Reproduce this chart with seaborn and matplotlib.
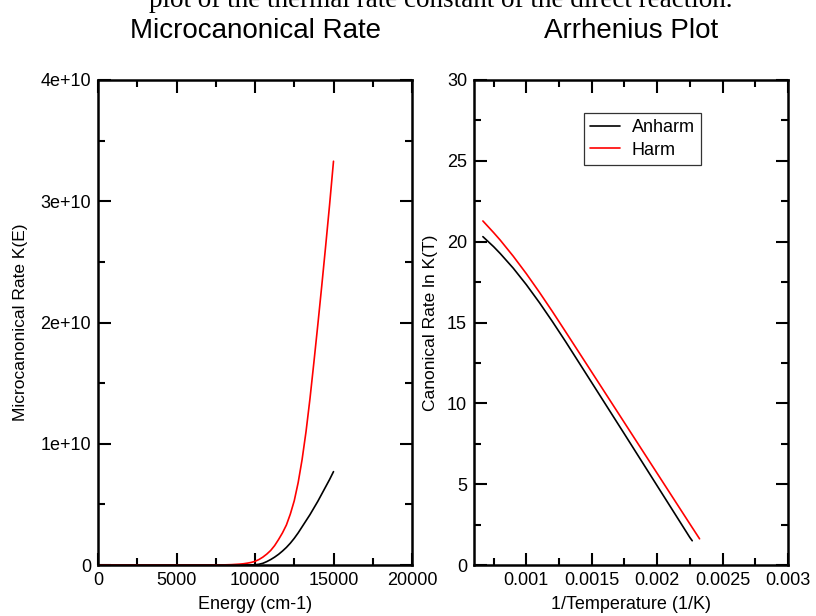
import numpy as np
import pandas as pd
import matplotlib
matplotlib.use("Agg")
import matplotlib.pyplot as plt
from matplotlib.ticker import MultipleLocator, FuncFormatter
import seaborn as sns

# Microcanonical rate K(E), in units of 1e10
energy = [0, 1000, 2000, 3000, 4000, 5000, 6000, 7000, 8000, 8500,
          9000, 9250, 9500, 9750, 10000, 10250, 10500, 10750, 11000, 11250,
          11500, 11750, 12000, 12250, 12500, 12750, 13000, 13250, 13500, 13750,
          14000, 14250, 14500, 14750, 15000]
k_e_anharm = [0, 0, 0, 0, 0, 0, 0, 0, 0, 0,
              0, 0, 0, 0.0005, 0.002, 0.006, 0.014, 0.028, 0.045, 0.065,
              0.088, 0.115, 0.145, 0.18, 0.22, 0.265, 0.315, 0.365, 0.415, 0.47,
              0.525, 0.585, 0.645, 0.705, 0.77]
k_e_harm = [0, 0, 0, 0, 0, 0, 0, 0, 0.001, 0.003,
            0.007, 0.010, 0.015, 0.021, 0.03, 0.045, 0.065, 0.09, 0.12, 0.16,
            0.21, 0.265, 0.33, 0.42, 0.53, 0.68, 0.87, 1.10, 1.37, 1.67,
            1.98, 2.30, 2.63, 2.97, 3.33]

# Arrhenius plot: ln K(T) against 1/T
inv_t_anharm = [0.000668, 0.00075, 0.0008, 0.0009, 0.001, 0.0011, 0.0012, 0.0013,
                0.0015, 0.00175, 0.002, 0.00225, 0.002268]
ln_k_anharm = [20.31, 19.69, 19.27, 18.36, 17.34, 16.23, 15.05, 13.82,
               11.28, 8.10, 4.90, 1.70, 1.50]
inv_t_harm = [0.000668, 0.00075, 0.0008, 0.0009, 0.001, 0.0011, 0.0012, 0.0013,
              0.0015, 0.00175, 0.002, 0.00225, 0.002324]
ln_k_harm = [21.28, 20.56, 20.10, 19.10, 18.02, 16.87, 15.67, 14.43,
             11.93, 8.80, 5.67, 2.54, 1.62]

sns.set_theme(style="ticks")
plt.rcParams['font.family'] = ['Liberation Sans', 'DejaVu Sans']
plt.rcParams.update({'text.color': 'black', 'axes.labelcolor': 'black',
                     'xtick.color': 'black', 'ytick.color': 'black'})

micro = pd.concat([
    pd.DataFrame({'E': energy, 'K': np.array(k_e_anharm) * 1e10, 'serie': 'Anharm'}),
    pd.DataFrame({'E': energy, 'K': np.array(k_e_harm) * 1e10, 'serie': 'Harm'}),
])
arr = pd.concat([
    pd.DataFrame({'x': inv_t_anharm, 'y': ln_k_anharm, 'serie': 'Anharm'}),
    pd.DataFrame({'x': inv_t_harm, 'y': ln_k_harm, 'serie': 'Harm'}),
])
colores = {'Anharm': 'black', 'Harm': 'red'}

fig = plt.figure(figsize=(8.16, 6.16), dpi=100)
ax1 = fig.add_axes([98 / 816, 51 / 616, 314 / 816, 485 / 616])
ax2 = fig.add_axes([474 / 816, 51 / 616, 314 / 816, 485 / 616])

sns.lineplot(data=micro, x='E', y='K', hue='serie', palette=colores, ax=ax1,
             linewidth=1.2, legend=False)
sns.lineplot(data=arr, x='x', y='y', hue='serie', palette=colores, ax=ax2,
             linewidth=1.2, sort=False)

fmt = FuncFormatter(lambda v, p: f"{v:g}")

ax1.set_xlim(0, 20000)
ax1.set_ylim(0, 4e10)
ax1.xaxis.set_major_locator(MultipleLocator(5000))
ax1.xaxis.set_minor_locator(MultipleLocator(2500))
ax1.yaxis.set_major_locator(MultipleLocator(1e10))
ax1.yaxis.set_minor_locator(MultipleLocator(5e9))

ax2.set_xlim(0.0006, 0.003)
ax2.set_ylim(0, 30)
ax2.xaxis.set_major_locator(MultipleLocator(0.0005))
ax2.xaxis.set_minor_locator(MultipleLocator(0.00025))
ax2.yaxis.set_major_locator(MultipleLocator(5))
ax2.yaxis.set_minor_locator(MultipleLocator(2.5))

for ax in (ax1, ax2):
    ax.xaxis.set_major_formatter(fmt)
    ax.yaxis.set_major_formatter(fmt)
    ax.tick_params(which='both', direction='in', top=True, right=True,
                   width=1.5, labelsize=13, pad=5, colors='black')
    ax.tick_params(which='major', length=9)
    ax.tick_params(which='minor', length=5)
    for s in ax.spines.values():
        s.set_linewidth(1.8)
        s.set_color('black')

ax1.set_title('Microcanonical Rate', fontsize=20, pad=30, color='black')
ax2.set_title('Arrhenius Plot', fontsize=20, pad=30, color='black')

ax1.set_xlabel('Energy (cm-1)', fontsize=13)
ax1.set_ylabel('Microcanonical Rate K(E)', fontsize=12.5)
ax2.set_xlabel('1/Temperature (1/K)', fontsize=13)
ax2.set_ylabel('Canonical Rate ln K(T)', fontsize=12.5)
ax1.xaxis.set_label_coords(0.5, -0.064)
ax2.xaxis.set_label_coords(0.5, -0.064)
# el ancla de la etiqueta y es su borde derecho
ax1.yaxis.set_label_coords(-0.223, 0.5)
ax2.yaxis.set_label_coords(-0.115, 0.5)

leg = ax2.legend(loc='upper left', bbox_to_anchor=(0.35, 0.932), borderaxespad=0,
                 fontsize=13, frameon=True, fancybox=False, handlelength=1.65,
                 handletextpad=0.65, borderpad=0.35, labelspacing=0.3)
leg.get_frame().set_edgecolor('black')
leg.get_frame().set_linewidth(0.9)
leg.set_title(None)

# leyenda del documento, cortada en el borde superior (como en el original)
fig.text(0.54, 1 - 7 / 616, 'plot of the thermal rate constant of the direct reaction.',
         family=['Liberation Serif', 'DejaVu Serif'], fontsize=19.5,
         ha='center', va='baseline', color='black')

fig.savefig('out.png', dpi=100)
